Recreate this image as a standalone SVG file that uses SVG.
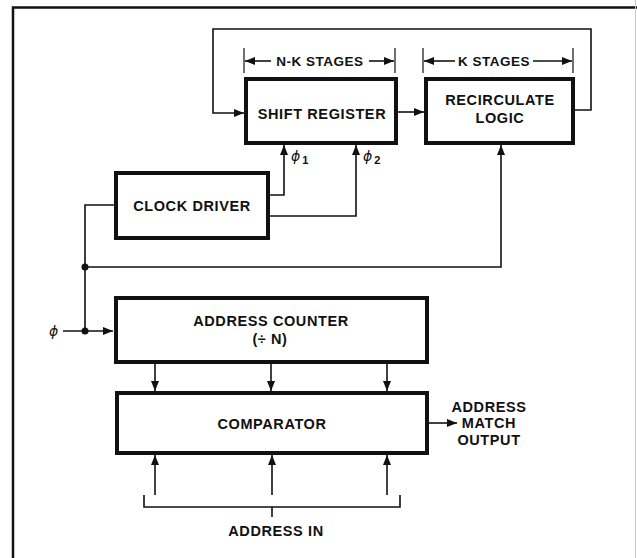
<svg xmlns="http://www.w3.org/2000/svg" width="637" height="558" viewBox="0 0 637 558">
<defs>
<marker id="ah" viewBox="0 0 10 8" refX="10" refY="4" markerWidth="10" markerHeight="8" markerUnits="userSpaceOnUse" orient="auto">
<path d="M0,0 L10,4 L0,8 Z" fill="#111"/>
</marker>
</defs>
<style>
.box{fill:#fff;stroke:#111;stroke-width:4}
.ln{fill:none;stroke:#111;stroke-width:1.6}
.thin{fill:none;stroke:#111;stroke-width:1.2}
.t{font-family:"Liberation Sans",Arial,Helvetica,sans-serif;font-weight:bold;font-size:14.5px;letter-spacing:0.6px;fill:#111;text-anchor:middle}
.s{font-family:"Liberation Sans",Arial,Helvetica,sans-serif;font-weight:bold;font-size:13.5px;letter-spacing:0.5px;fill:#111;text-anchor:middle}
.phi{font-family:"DejaVu Sans",sans-serif;font-style:oblique;font-size:14px;fill:#111}
.sub{font-family:"Liberation Sans",Arial,sans-serif;font-style:normal;font-weight:bold;font-size:11px}
.dot{fill:#111}
</style>
<rect width="637" height="558" fill="#fff"/>
<g id="frame">
<path d="M13,558 L13,7.5 L637,7.5" fill="none" stroke="#111" stroke-width="2.5"/>
<line x1="635.5" y1="0" x2="635.5" y2="558" stroke="#c8c8c8" stroke-width="1"/>
</g>
<g id="connectors">
<path class="ln" d="M573,110 L591,110 L591,29 L213,29 L213,113 L244,113" marker-end="url(#ah)"/>
<path class="ln" d="M397,112 L424,112" marker-end="url(#ah)"/>
<line class="thin" x1="244" y1="48" x2="244" y2="73"/>
<line class="thin" x1="395" y1="48" x2="395" y2="73"/>
<path class="ln" d="M271,61 L245,61" marker-end="url(#ah)"/>
<path class="ln" d="M369,61 L394,61" marker-end="url(#ah)"/>
<line class="thin" x1="423" y1="48" x2="423" y2="73"/>
<line class="thin" x1="573" y1="48" x2="573" y2="73"/>
<path class="ln" d="M455,61 L424,61" marker-end="url(#ah)"/>
<path class="ln" d="M533,61 L572,61" marker-end="url(#ah)"/>
<path class="ln" d="M268,195 L284,195 L284,145" marker-end="url(#ah)"/>
<path class="ln" d="M268,216 L356,216 L356,145" marker-end="url(#ah)"/>
<path class="ln" d="M116,205 L85,205 L85,331"/>
<path class="ln" d="M85,267 L501,267 L501,145" marker-end="url(#ah)"/>
<path class="ln" d="M63,331 L113,331" marker-end="url(#ah)"/>
<circle class="dot" cx="85" cy="267" r="3.5"/>
<circle class="dot" cx="85" cy="331" r="3.5"/>
<path class="ln" d="M155,364 L155,391" marker-end="url(#ah)"/>
<path class="ln" d="M271,364 L271,391" marker-end="url(#ah)"/>
<path class="ln" d="M387,364 L387,391" marker-end="url(#ah)"/>
<path class="ln" d="M429,423 L457,423" marker-end="url(#ah)"/>
<path class="ln" d="M155,495 L155,455" marker-end="url(#ah)"/>
<path class="ln" d="M272,495 L272,455" marker-end="url(#ah)"/>
<path class="ln" d="M387,495 L387,455" marker-end="url(#ah)"/>
<path class="ln" d="M144,495 L144,507 L400,507 L400,495"/>
<line class="ln" x1="272" y1="507" x2="272" y2="517"/>
</g>
<g id="shift-register">
<rect class="box" x="246" y="79" width="150" height="64"/>
<text class="t" x="322" y="119">SHIFT REGISTER</text>
</g>
<g id="recirculate-logic">
<rect class="box" x="426" y="79" width="147" height="64"/>
<text class="t" x="500" y="105">RECIRCULATE</text>
<text class="t" x="500" y="123">LOGIC</text>
</g>
<g id="nk-stages"><text class="s" x="320" y="66">N-K STAGES</text></g>
<g id="k-stages"><text class="s" x="494" y="66">K STAGES</text></g>
<g id="phi-labels">
<text class="phi" x="291" y="161">ϕ<tspan class="sub" dx="2" dy="3">1</tspan></text>
<text class="phi" x="363" y="161">ϕ<tspan class="sub" dx="2" dy="3">2</tspan></text>
<text class="phi" x="49" y="336">ϕ</text>
</g>
<g id="clock-driver">
<rect class="box" x="116" y="173" width="152" height="65"/>
<text class="t" x="192" y="211">CLOCK DRIVER</text>
</g>
<g id="address-counter">
<rect class="box" x="116" y="298" width="311" height="64"/>
<text class="t" x="271" y="326">ADDRESS COUNTER</text>
<text class="t" x="270" y="344">(÷  N)</text>
</g>
<g id="comparator">
<rect class="box" x="117" y="393" width="310" height="60"/>
<text class="t" x="272" y="429">COMPARATOR</text>
</g>
<g id="address-match-output">
<text class="t" x="489" y="412">ADDRESS</text>
<text class="t" x="489" y="428">MATCH</text>
<text class="t" x="489" y="445">OUTPUT</text>
</g>
<g id="address-in">
<text class="t" x="276" y="536">ADDRESS IN</text>
</g>
</svg>
